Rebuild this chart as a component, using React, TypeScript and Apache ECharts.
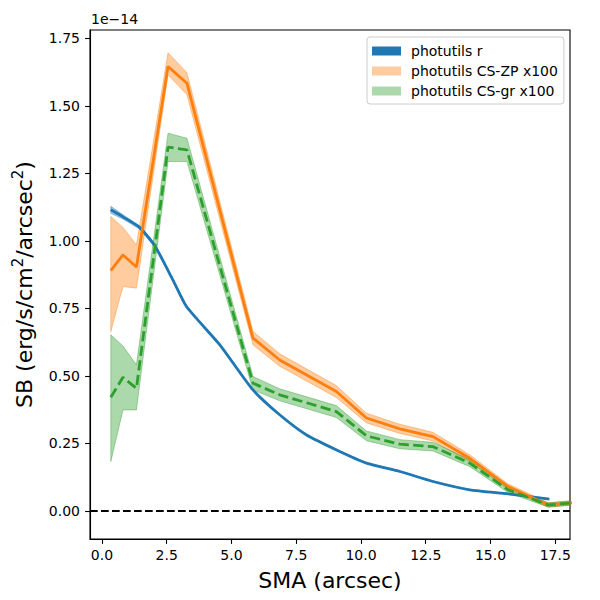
import { useEffect, useRef } from "react";
import * as echarts from "echarts";

// SMA grid of the CS profiles (arcsec)
const csSma = [0.34, 0.81, 1.33, 2.55, 3.28, 5.83, 6.86, 9.05, 10.21, 11.5, 12.78, 14.2, 15.68, 17.23, 18.9];

// photutils CS-ZP x100 (units of 1e-14)
const zpValue = [0.89, 0.948, 0.903, 1.646, 1.584, 0.64, 0.559, 0.442, 0.344, 0.304, 0.275, 0.195, 0.09, 0.022, 0.036];
const zpUpper = [1.09, 1.05, 0.985, 1.697, 1.623, 0.665, 0.582, 0.464, 0.362, 0.321, 0.291, 0.208, 0.1, 0.03, 0.044];
const zpLower = [0.664, 0.831, 0.825, 1.615, 1.541, 0.615, 0.536, 0.42, 0.326, 0.287, 0.259, 0.182, 0.08, 0.014, 0.028];

// photutils CS-gr x100
const grValue = [0.421, 0.495, 0.454, 1.347, 1.337, 0.473, 0.43, 0.368, 0.278, 0.247, 0.238, 0.177, 0.078, 0.022, 0.036];
const grUpper = [0.652, 0.611, 0.541, 1.399, 1.38, 0.498, 0.452, 0.39, 0.296, 0.264, 0.254, 0.19, 0.088, 0.03, 0.044];
const grLower = [0.183, 0.374, 0.374, 1.294, 1.294, 0.448, 0.408, 0.346, 0.26, 0.23, 0.222, 0.164, 0.068, 0.014, 0.028];

// photutils r
const rSma = [0.34, 0.81, 1.45, 2.04, 2.74, 3.26, 4.55, 5.83, 6.86, 7.9, 9.18, 10.21, 11.5, 12.78, 14.2, 15.68, 17.27];
const rValue = [1.115, 1.089, 1.05, 0.982, 0.855, 0.757, 0.615, 0.448, 0.356, 0.281, 0.22, 0.177, 0.146, 0.109, 0.078, 0.063, 0.044];
const rUpper = [1.128, 1.097, 1.056, 0.987, 0.859, 0.761, 0.618, 0.451, 0.358, 0.283, 0.222, 0.179, 0.148, 0.111, 0.08, 0.065, 0.046];
const rLower = [1.102, 1.081, 1.044, 0.977, 0.851, 0.753, 0.612, 0.445, 0.354, 0.279, 0.218, 0.175, 0.144, 0.107, 0.076, 0.061, 0.042];

const xTicks = [0, 2.5, 5, 7.5, 10, 12.5, 15, 17.5];
const yTicks = [0, 0.25, 0.5, 0.75, 1, 1.25, 1.5, 1.75];

const FONT = "DejaVu Sans";

function pairs(xs: number[], ys: number[]) {
  return xs.map((x, i) => [x, ys[i]]);
}

function band(name: string, xs: number[], hi: number[], lo: number[], fill: string) {
  return {
    name,
    type: "custom",
    coordinateSystem: "cartesian2d",
    clip: true,
    silent: true,
    itemStyle: { color: fill },
    data: [[xs[0], hi[0]]],
    renderItem: (_params: unknown, api: any) => {
      const top = xs.map((x, i) => api.coord([x, hi[i]]));
      const bottom = xs.map((x, i) => api.coord([x, lo[i]])).reverse();
      return {
        type: "polygon",
        shape: { points: top.concat(bottom) },
        style: { fill, stroke: fill, lineWidth: 1 },
      };
    },
  };
}

function line(name: string, xs: number[], ys: number[], color: string, dash?: number[], smooth = 0) {
  return {
    name,
    type: "line",
    silent: true,
    symbol: "none",
    smooth,
    data: pairs(xs, ys),
    lineStyle: { color, width: 2.8, type: dash ?? "solid" },
  };
}

export default function App() {
  const chartRef = useRef<HTMLDivElement>(null);

  useEffect(() => {
    if (!chartRef.current) {
      return undefined;
    }
    const chart = echarts.init(chartRef.current, undefined, { renderer: "svg" });

    chart.setOption({
      animation: false,
      textStyle: { fontFamily: FONT },
      grid: { left: 90, right: 30, top: 30, bottom: 61, show: true, borderColor: "#000", borderWidth: 1.1 },
      legend: {
        orient: "vertical",
        left: 367,
        top: 37,
        padding: [7, 6, 6, 5],
        itemWidth: 29,
        itemHeight: 9,
        itemGap: 6,
        selectedMode: false,
        backgroundColor: "rgba(255,255,255,0.8)",
        borderColor: "#cccccc",
        borderWidth: 1,
        borderRadius: 3,
        textStyle: { fontFamily: FONT, fontSize: 14, color: "#000", lineHeight: 14, padding: [0, 0, 0, 5] },
        data: [
          { name: "photutils r", icon: "rect", itemStyle: { color: "#1f77b4" } },
          { name: "photutils CS-ZP x100", icon: "rect", itemStyle: { color: "rgba(255,127,14,0.4)" } },
          { name: "photutils CS-gr x100", icon: "rect", itemStyle: { color: "rgba(44,160,44,0.4)" } },
        ],
      },
      graphic: [
        {
          type: "text",
          left: 91,
          top: 12,
          style: { text: "1e\u221214", fontFamily: FONT, fontSize: 14, fill: "#000" },
        },
      ],
      xAxis: {
        type: "value",
        min: -0.463,
        max: 18.07,
        name: "SMA (arcsec)",
        nameLocation: "middle",
        nameGap: 30,
        nameTextStyle: { fontFamily: FONT, fontSize: 22, color: "#000" },
        splitLine: { show: false },
        axisLine: { show: true, onZero: false, lineStyle: { color: "#000", width: 1.1 } },
        axisTick: { show: true, length: 4.9, customValues: xTicks, lineStyle: { color: "#000", width: 1.1 } },
        axisLabel: {
          customValues: xTicks,
          margin: 9,
          fontFamily: FONT,
          fontSize: 14,
          color: "#000",
          formatter: (v: number) => v.toFixed(1),
        },
      },
      yAxis: {
        type: "value",
        min: -0.104,
        max: 1.781,
        name: "{a|SB (erg/s/cm}{s|2}{a|/arcsec}{s|2}{a|)}",
        nameLocation: "middle",
        nameGap: 52,
        nameRotate: 90,
        nameTextStyle: {
          fontFamily: FONT,
          color: "#000",
          rich: {
            a: { fontFamily: FONT, fontSize: 22, color: "#000", lineHeight: 28 },
            s: { fontFamily: FONT, fontSize: 15, color: "#000", lineHeight: 16, verticalAlign: "top" },
          },
        },
        splitLine: { show: false },
        axisLine: { show: true, onZero: false, lineStyle: { color: "#000", width: 1.1 } },
        axisTick: { show: true, length: 4.9, customValues: yTicks, lineStyle: { color: "#000", width: 1.1 } },
        axisLabel: {
          customValues: yTicks,
          margin: 10,
          fontFamily: FONT,
          fontSize: 14,
          color: "#000",
          formatter: (v: number) => v.toFixed(2),
        },
      },
      series: [
        band("photutils r", rSma, rUpper, rLower, "rgba(31,119,180,0.4)"),
        line("photutils r line", rSma, rValue, "#1f77b4", undefined, 0.2),
        band("photutils CS-ZP x100", csSma, zpUpper, zpLower, "rgba(255,127,14,0.4)"),
        line("photutils CS-ZP x100 line", csSma, zpValue, "#ff7f0e"),
        band("photutils CS-gr x100", csSma, grUpper, grLower, "rgba(44,160,44,0.4)"),
        line("photutils CS-gr x100 line", csSma, grValue, "#2ca02c", [10.3, 4.4]),
        {
          name: "zero",
          type: "line",
          silent: true,
          data: [],
          markLine: {
            silent: true,
            symbol: ["none", "none"],
            label: { show: false },
            lineStyle: { color: "#000", width: 2, type: [7.7, 3.3] },
            data: [{ yAxis: 0 }],
          },
        },
      ],
    });

    return () => {
      chart.dispose();
    };
  }, []);

  return (
    <div
      ref={chartRef}
      style={{ position: "fixed", left: 0, top: 0, width: 600, height: 600, background: "#fff" }}
    />
  );
}
